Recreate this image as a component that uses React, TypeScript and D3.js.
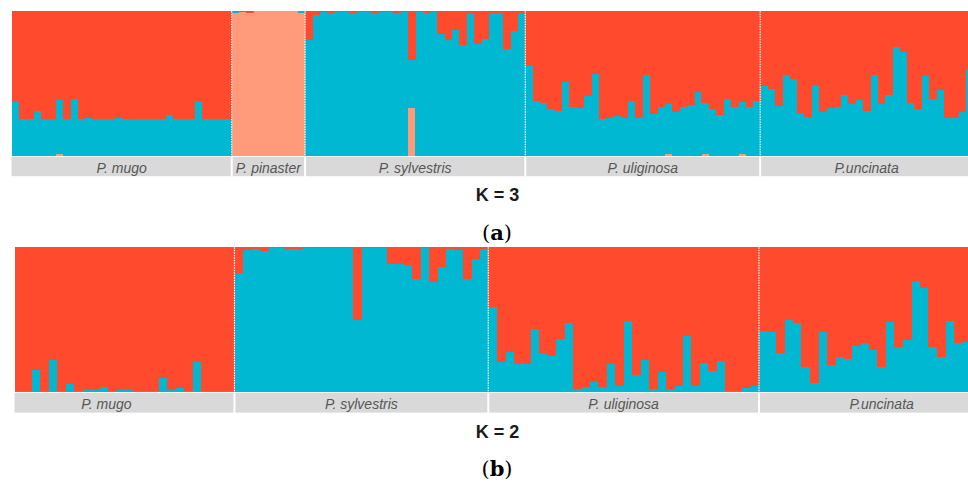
import React from 'react';
import * as d3 from 'd3';

// ---------- K = 3 (panel a) ----------
const k3Groups = ['P. mugo', 'P. pinaster', 'P. sylvestris', 'P. uliginosa', 'P.uncinata'];

const k3MugoBlue = [0.37, 0.255, 0.255, 0.31, 0.255, 0.255, 0.377, 0.255, 0.393, 0.255, 0.262, 0.255, 0.255, 0.255, 0.262, 0.255, 0.255, 0.255, 0.255, 0.255, 0.255, 0.28, 0.255, 0.255, 0.255, 0.377, 0.255, 0.255, 0.255, 0.255];
const k3MugoSalmon = [0, 0, 0, 0, 0, 0, 0.012, 0, 0, 0, 0, 0, 0, 0, 0, 0, 0, 0, 0, 0, 0, 0, 0, 0, 0, 0, 0, 0, 0, 0];

const k3PinasterBlue = [0.015, 0, 0, 0, 0, 0, 0, 0, 0, 0.01];
const k3PinasterSalmon = [0.985, 0.995, 0.99, 1, 1, 1, 1, 1, 1, 0.99];

const k3SylvestrisBlue = [0.8, 0.975, 0.995, 0.99, 0.995, 0.995, 0.99, 0.995, 0.995, 0.99, 0.995, 0.995, 0.99, 0.995, 0.33, 0.995, 0.99, 0.995, 0.843, 0.803, 0.873, 0.764, 0.99, 0.773, 0.81, 0.99, 0.99, 0.741, 0.866, 0.99];
const k3SylvestrisSalmon = [0, 0, 0, 0, 0, 0, 0, 0, 0, 0, 0, 0, 0, 0, 0.33, 0, 0, 0, 0, 0, 0, 0, 0, 0, 0, 0, 0, 0, 0, 0];

const k3UliginosaBlue = [0.625, 0.38, 0.363, 0.322, 0.31, 0.507, 0.336, 0.33, 0.41, 0.567, 0.255, 0.26, 0.275, 0.26, 0.38, 0.26, 0.556, 0.29, 0.34, 0.347, 0.305, 0.336, 0.35, 0.44, 0.356, 0.322, 0.282, 0.394, 0.336, 0.363, 0.34, 0.38];
const k3UliginosaSalmon = [0, 0, 0, 0, 0, 0, 0, 0, 0, 0, 0, 0, 0, 0, 0, 0, 0, 0, 0, 0.01, 0, 0, 0, 0, 0.01, 0, 0, 0, 0, 0.01, 0, 0];

const k3UncinataBlue = [0.484, 0.46, 0.345, 0.558, 0.53, 0.294, 0.266, 0.488, 0.306, 0.329, 0.336, 0.417, 0.356, 0.387, 0.313, 0.558, 0.356, 0.417, 0.752, 0.718, 0.363, 0.322, 0.553, 0.394, 0.456, 0.26, 0.26, 0.303, 0.6];
const k3UncinataSalmon = [0, 0, 0, 0, 0, 0, 0, 0, 0, 0, 0, 0, 0, 0, 0, 0, 0, 0, 0, 0, 0, 0, 0, 0, 0, 0, 0, 0, 0];

// ---------- K = 2 (panel b) ----------
const k2Groups = ['P. mugo', 'P. sylvestris', 'P. uliginosa', 'P.uncinata'];

const k2MugoBlue = [0.005, 0.005, 0.15, 0.005, 0.22, 0.003, 0.053, 0.003, 0.01, 0.014, 0.03, 0.003, 0.01, 0.01, 0.003, 0.003, 0.003, 0.092, 0.01, 0.023, 0.003, 0.203, 0.003, 0.003, 0.003, 0.003];
const k2SylvestrisBlue = [0.82, 0.98, 0.99, 0.977, 0.995, 0.995, 0.988, 0.988, 0.995, 0.995, 0.995, 0.995, 0.995, 0.995, 0.497, 0.995, 0.995, 0.995, 0.882, 0.882, 0.878, 0.78, 0.997, 0.762, 0.866, 0.99, 0.98, 0.778, 0.92, 0.99];
const k2UliginosaBlue = [0.584, 0.203, 0.277, 0.189, 0.189, 0.432, 0.266, 0.249, 0.363, 0.473, 0.016, 0.03, 0.067, 0.03, 0.189, 0.039, 0.49, 0.113, 0.219, 0.016, 0.134, 0.016, 0.039, 0.386, 0.039, 0.196, 0.143, 0.21, 0.005, 0.005, 0.023, 0.039];
const k2UncinataBlue = [0.423, 0.416, 0.266, 0.497, 0.473, 0.169, 0.062, 0.416, 0.185, 0.242, 0.226, 0.316, 0.34, 0.289, 0.169, 0.485, 0.307, 0.358, 0.769, 0.716, 0.307, 0.242, 0.49, 0.335, 0.346, 0.2, 0.2, 0.25, 0.5];

const COLORS: Record<string, string> = { salmon: '#FF9A7B', blue: '#00B8D2', red: '#FF4A2E' };
const KEYS = ['salmon', 'blue', 'red'];

type Ind = { id: string; group: number; salmon: number; blue: number; red: number };

function buildInds(blues: number[][], salmons: (number[] | null)[]): Ind[] {
  const out: Ind[] = [];
  blues.forEach((arr, g) => {
    arr.forEach((b, i) => {
      const s = salmons[g] ? (salmons[g] as number[])[i] : 0;
      out.push({ id: `${g}-${i}`, group: g, salmon: s, blue: b, red: Math.max(0, 1 - b - s) });
    });
  });
  return out;
}

type PanelProps = {
  inds: Ind[];
  groups: string[];
  x0: number;
  pitch: number;
  top: number;
  bottom: number;
  stripTop: number;
  stripH: number;
  labelNudge: number[];
};

function Panel({ inds, groups, x0, pitch, top, bottom, stripTop, stripH, labelNudge }: PanelProps) {
  const ids = inds.map((d) => d.id);
  const x = d3.scaleBand<string>().domain(ids).range([x0, x0 + ids.length * pitch]).paddingInner(0).paddingOuter(0);
  const y = d3.scaleLinear().domain([0, 1]).range([bottom, top]);
  const series = d3.stack<Ind>().keys(KEYS)(inds);

  const starts: number[] = [];
  groups.forEach((_, g) => starts.push(inds.findIndex((d) => d.group === g)));
  const xEnd = x0 + ids.length * pitch;
  const bounds = starts.map((s) => x(ids[s]) as number).concat([xEnd]);

  return (
    <g>
      <g shapeRendering="crispEdges">
        {series.map((s) => (
          <g key={s.key} fill={COLORS[s.key]}>
            {s.map((d, i) => {
              const h = y(d[0]) - y(d[1]);
              if (h <= 0) return null;
              return (
                <rect key={i} x={x(ids[i]) as number} width={x.bandwidth() + 0.4} y={y(d[1])} height={h} />
              );
            })}
          </g>
        ))}
      </g>
      {bounds.slice(1, -1).map((bx, i) => (
        <line key={`d${i}`} x1={bx} x2={bx} y1={top} y2={bottom} stroke="#ffffff" strokeWidth={1.2} strokeDasharray="1.5 1" />
      ))}
      {groups.map((name, g) => {
        const a = bounds[g] + (g === 0 ? 0 : 1);
        const b = bounds[g + 1] - (g === groups.length - 1 ? 0 : 1);
        return (
          <g key={name}>
            <rect x={a} y={stripTop} width={b - a} height={stripH} fill="#D9D9D9" />
            <text
              x={(bounds[g] + bounds[g + 1]) / 2 + labelNudge[g]}
              y={stripTop + 15.8}
              textAnchor="middle"
              fontFamily="'Liberation Sans', Arial, sans-serif"
              fontStyle="italic"
              fontSize={14}
              fill="#575757"
            >
              {name}
            </text>
          </g>
        );
      })}
    </g>
  );
}

export default function App() {
  const k3Inds = buildInds(
    [k3MugoBlue, k3PinasterBlue, k3SylvestrisBlue, k3UliginosaBlue, k3UncinataBlue],
    [k3MugoSalmon, k3PinasterSalmon, k3SylvestrisSalmon, k3UliginosaSalmon, k3UncinataSalmon]
  );
  const k2Inds = buildInds([k2MugoBlue, k2SylvestrisBlue, k2UliginosaBlue, k2UncinataBlue], [null, null, null, null]);

  return (
    <svg width={968} height={483} style={{ position: 'absolute', left: 0, top: 0, background: '#fff' }}>
      <Panel inds={k3Inds} groups={k3Groups} x0={11.5} pitch={7.34} top={11.3} bottom={155.7} stripTop={156.8} stripH={19.4} labelNudge={[0, 0, 0, 0, 0]} />
      <Panel inds={k2Inds} groups={k2Groups} x0={14.5} pitch={8.46} top={247.3} bottom={391.7} stripTop={392.8} stripH={19.8} labelNudge={[-18, 0, 0, 0]} />

      <text x={497.5} y={201} textAnchor="middle" fontFamily="'Liberation Sans', Arial, sans-serif" fontWeight="bold" fontSize={18} fill="#1a1a1a">K = 3</text>
      <text x={497} y={240} textAnchor="middle" fontFamily="'DejaVu Serif', serif" fontSize={21} fill="#000">
        (<tspan fontWeight="bold">a</tspan>)
      </text>
      <text x={497.5} y={437.5} textAnchor="middle" fontFamily="'Liberation Sans', Arial, sans-serif" fontWeight="bold" fontSize={18} fill="#1a1a1a">K = 2</text>
      <text x={497} y={476} textAnchor="middle" fontFamily="'DejaVu Serif', serif" fontSize={21} fill="#000">
        (<tspan fontWeight="bold">b</tspan>)
      </text>
    </svg>
  );
}
